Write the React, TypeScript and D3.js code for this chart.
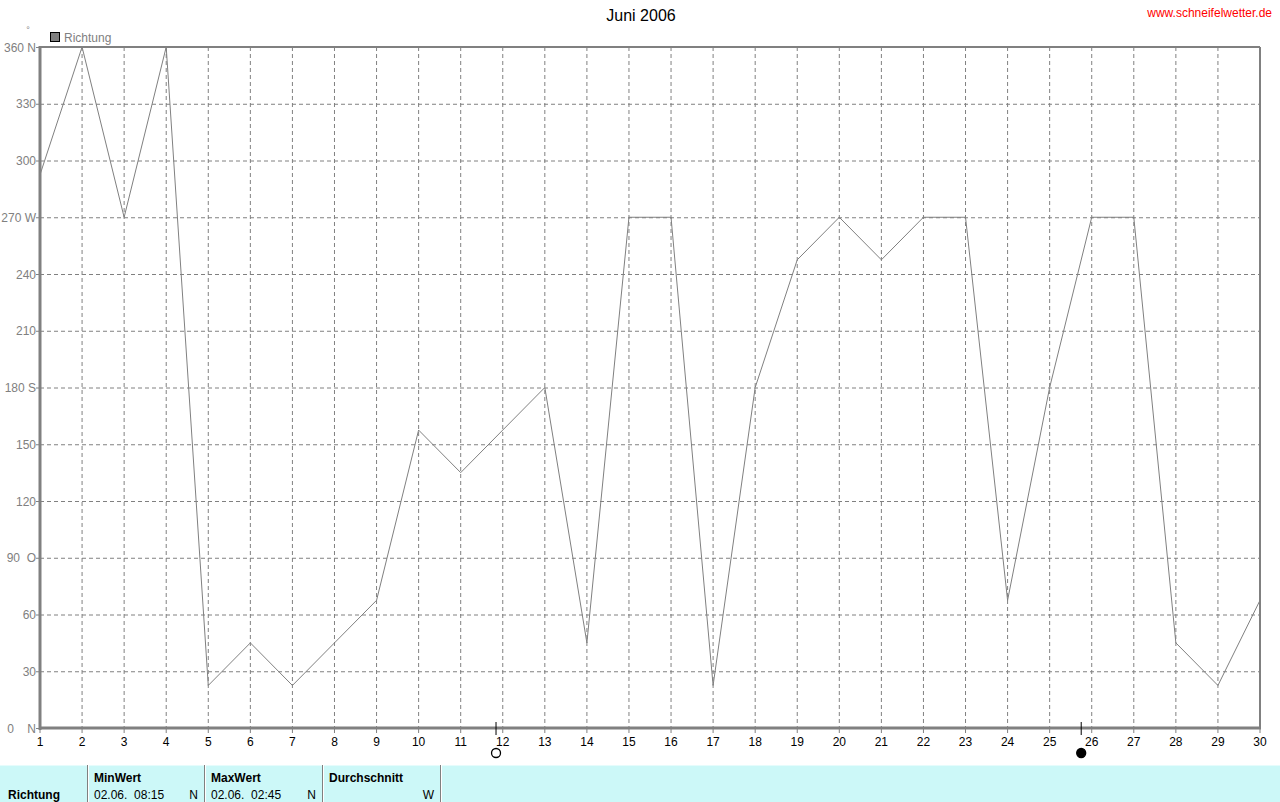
import React from "react";
import * as d3 from "d3";

const days = Array.from({ length: 30 }, (_, i) => i + 1);
const direction = [292.5, 360, 270, 360, 22.5, 45, 22.5, 45, 67.5, 157.5, 135, 157.5, 180, 45, 270, 270, 22.5, 180, 247.5, 270, 247.5, 270, 270, 67.5, 180, 270, 270, 45, 22.5, 67.5];
const yTicks = [0, 30, 60, 90, 120, 150, 180, 210, 240, 270, 300, 330, 360];
const yTickLabels = ["0    N", "30", "60", "90  O", "120", "150", "180 S", "210", "240", "270 W", "300", "330", "360 N"];
const moonEvents = [{ day: 11.84, full: false }, { day: 25.75, full: true }];
const tableCols = [
  { head: "MinWert", date: "02.06.  08:15", val: "N" },
  { head: "MaxWert", date: "02.06.  02:45", val: "N" },
  { head: "Durchschnitt", date: "", val: "W" },
];

export default function App() {
  const W = 1280, H = 802;
  const left = 40, right = 1260, top = 47, bottom = 728;
  const x = d3.scaleLinear().domain([1, 30]).range([left, right]);
  const y = d3.scaleLinear().domain([0, 360]).range([bottom, top]);
  const line = d3.line<number>().x((_, i) => x(days[i])).y((d) => y(d));
  const font = "'Liberation Sans', Arial, sans-serif";
  const colX = [88, 205, 323, 441];
  return (
    <svg width={W} height={H} style={{ position: "absolute", left: 0, top: 0, background: "#fff" }} fontFamily={font} fontSize={12}>
      <rect x={0} y={0} width={W} height={H} fill="#fff" />
      <text x={641} y={21} textAnchor="middle" fontSize={16} fill="#000">Juni 2006</text>
      <text x={1272} y={17} textAnchor="end" fontSize={12} fill="#ff0000">www.schneifelwetter.de</text>
      <text x={28} y={33} fontSize={9} fill="#808080" textAnchor="middle">°</text>
      <rect x={50.5} y={32.5} width={9} height={9} fill="#808080" stroke="#000" />
      <text x={64} y={42} fill="#808080">Richtung</text>
      {/* grid */}
      {days.slice(1, -1).map((d) => (
        <line key={"gx" + d} x1={x(d)} x2={x(d)} y1={top} y2={bottom} stroke="#808080" strokeDasharray="4 3" />
      ))}
      {yTicks.slice(1, -1).map((t) => (
        <line key={"gy" + t} x1={left} x2={right} y1={y(t) + 0.5} y2={y(t) + 0.5} stroke="#808080" strokeDasharray="4 3" />
      ))}
      {/* frame */}
      <line x1={left} x2={right} y1={top} y2={top} stroke="#808080" strokeWidth={2} />
      <line x1={right} x2={right} y1={top} y2={bottom} stroke="#808080" strokeWidth={2} />
      <line x1={left} x2={left} y1={top - 1} y2={bottom + 2} stroke="#808080" strokeWidth={3} />
      <line x1={left} x2={right + 1} y1={bottom} y2={bottom} stroke="#808080" strokeWidth={3} />
      {/* y ticks */}
      {yTicks.map((t, i) => (
        <g key={"yt" + t}>
          <line x1={left - 4} x2={left} y1={y(t) + 0.5} y2={y(t) + 0.5} stroke="#808080" />
          <text x={left - 4} y={y(t) + 4.5} textAnchor="end" fill="#808080" style={{ whiteSpace: "pre" }}>{yTickLabels[i]}</text>
        </g>
      ))}
      {/* x ticks */}
      {days.map((d) => (
        <g key={"xt" + d}>
          <line x1={x(d)} x2={x(d)} y1={bottom} y2={bottom + 5} stroke="#808080" />
          <text x={x(d)} y={746} textAnchor="middle" fill="#000">{d}</text>
        </g>
      ))}
      {/* moon */}
      {moonEvents.map((m, i) => (
        <g key={"m" + i}>
          <line x1={x(m.day)} x2={x(m.day)} y1={722} y2={735} stroke="#000" />
          <circle cx={x(m.day)} cy={753} r={4.5} fill={m.full ? "#000" : "#fff"} stroke="#000" strokeWidth={1.3} />
        </g>
      ))}
      {/* data line */}
      <path d={line(direction) || ""} fill="none" stroke="#808080" strokeWidth={1} />
      {/* table */}
      <rect x={0} y={765} width={1280} height={37} fill="#ccf8f8" />
      <line x1={0} x2={1280} y1={765} y2={765} stroke="#ffffff" />
      {colX.map((cx) => (
        <g key={"c" + cx}>
          <line x1={cx - 0.5} x2={cx - 0.5} y1={765} y2={802} stroke="#808080" />
          <line x1={cx + 0.5} x2={cx + 0.5} y1={765} y2={802} stroke="#ffffff" />
        </g>
      ))}
      <text x={8} y={799} fontWeight="bold" fill="#000">Richtung</text>
      {tableCols.map((c, i) => (
        <g key={"tc" + i}>
          <text x={colX[i] + 6} y={782} fontWeight="bold" fill="#000">{c.head}</text>
          <text x={colX[i] + 6} y={799} fill="#000" style={{ whiteSpace: "pre" }}>{c.date}</text>
          <text x={colX[i + 1] - 7} y={799} textAnchor="end" fill="#000">{c.val}</text>
        </g>
      ))}
    </svg>
  );
}
